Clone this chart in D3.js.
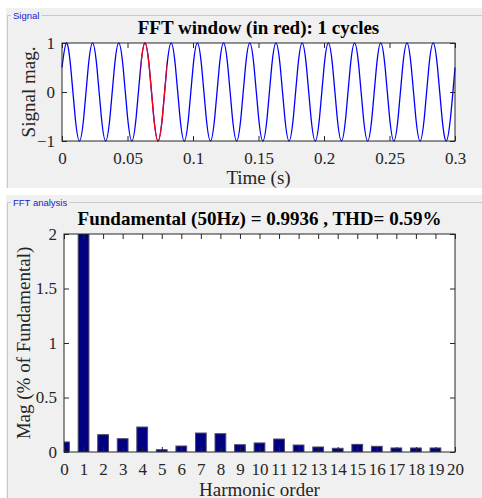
<!DOCTYPE html>
<html>
<head>
<meta charset="utf-8">
<script src="https://cdn.jsdelivr.net/npm/d3@7"></script>
<style>
  body { margin: 0; background: #fff; }
  svg { display: block; }
  .ax text { font-family: "Liberation Serif", serif; font-size: 17px; fill: #262626; }
  .ax path, .ax line { stroke: #262626; }
</style>
</head>
<body>
<div id="chart-area"></div>
<script>
// signal samples, one every 1/300 s (peaks, troughs, half points)
const sampleStep = 1 / 300
const signalValues = [
  0.5, 1, 0.5, -0.5, -1, -0.5, 0.5, 1, 0.5, -0.5, -1, -0.5,
  0.5, 1, 0.5, -0.5, -1, -0.5, 0.5, 1, 0.5, -0.5, -1, -0.5,
  0.5, 1, 0.5, -0.5, -1, -0.5, 0.5, 1, 0.5, -0.5, -1, -0.5,
  0.5, 1, 0.5, -0.5, -1, -0.5, 0.5, 1, 0.5, -0.5, -1, -0.5,
  0.5, 1, 0.5, -0.5, -1, -0.5, 0.5, 1, 0.5, -0.5, -1, -0.5,
  0.5, 1, 0.5, -0.5, -1, -0.5, 0.5, 1, 0.5, -0.5, -1, -0.5,
  0.5, 1, 0.5, -0.5, -1, -0.5, 0.5, 1, 0.5, -0.5, -1, -0.5,
  0.5, 1, 0.5, -0.5, -1, -0.5, 0.5
]
const windowStart = 0.06
const windowEnd = 0.08

const timeTicks = [0, 0.05, 0.1, 0.15, 0.2, 0.25, 0.3]
const signalTicks = [-1, 0, 1]

// harmonic spectrum (% of fundamental)
const harmonics = [0, 1, 2, 3, 4, 5, 6, 7, 8, 9, 10, 11, 12, 13, 14, 15, 16, 17, 18, 19]
const magnitudes = [0.092, 100, 0.159, 0.122, 0.229, 0.021, 0.055, 0.174, 0.168, 0.067,
                    0.083, 0.119, 0.064, 0.046, 0.034, 0.070, 0.052, 0.037, 0.037, 0.037]
const harmonicTicks = d3.range(0, 21)
const magTicks = [0, 0.5, 1, 1.5, 2]

const W = 482, H = 498
const SERIF = "Liberation Serif, serif"

const svg = d3.select("#chart-area")
    .append("svg")
    .attr("width", W)
    .attr("height", H)

// panels
function panel(y0, y1, label, lineY) {
    svg.append("rect")
        .attr("x", 6).attr("y", y0)
        .attr("width", W - 6).attr("height", y1 - y0)
        .attr("fill", "#f0f0f0")
    const lbl = svg.append("text")
        .attr("x", 13).attr("y", lineY + 3.5)
        .attr("font-family", "Liberation Sans, Arial, sans-serif")
        .attr("font-size", 9.5)
        .attr("fill", "#1a1acc")
        .text(label)
    const lw = lbl.node().getComputedTextLength()
    svg.append("path")
        .attr("d", `M7.5,${y1} V${lineY + 0.5} H11 M${15 + lw},${lineY + 0.5} H${W}`)
        .attr("fill", "none")
        .attr("stroke", "#c8c8c8")
}
panel(8, 188, "Signal", 15)
panel(195, H, "FFT analysis", 202)

function boxAxes(g, x, y, w, h, xt, yt) {
    g.append("g").attr("class", "ax")
        .attr("transform", `translate(0,${h})`)
        .call(d3.axisBottom(x).tickValues(xt).tickSize(-5).tickPadding(11).tickFormat(d3.format("")))
    g.append("g").attr("class", "ax")
        .call(d3.axisTop(x).tickValues(xt).tickSize(-5).tickFormat(""))
    g.append("g").attr("class", "ax")
        .call(d3.axisLeft(y).tickValues(yt).tickSize(-5).tickPadding(7).tickFormat(d3.format("")))
    g.append("g").attr("class", "ax")
        .attr("transform", `translate(${w},0)`)
        .call(d3.axisRight(y).tickValues(yt).tickSize(-5).tickFormat(""))
    g.selectAll(".ax .domain").remove()
    g.append("rect")
        .attr("width", w).attr("height", h)
        .attr("fill", "none").attr("stroke", "#262626")
}

function labels(g, w, h, title, xl, yl, titleY, xlY, ylX) {
    g.append("text")
        .attr("x", w / 2).attr("y", titleY)
        .attr("text-anchor", "middle")
        .attr("font-family", SERIF)
        .attr("font-weight", "bold")
        .attr("font-size", 19)
        .text(title)
    g.append("text")
        .attr("x", w / 2).attr("y", xlY)
        .attr("text-anchor", "middle")
        .attr("font-family", SERIF)
        .attr("font-size", 19).attr("fill", "#262626")
        .text(xl)
    g.append("text")
        .attr("transform", `translate(${ylX},${h / 2}) rotate(-90)`)
        .attr("text-anchor", "middle")
        .attr("font-family", SERIF)
        .attr("font-size", 19).attr("fill", "#262626")
        .text(yl)
}

// ---- top: signal ----
const M1 = { LEFT: 62, TOP: 43, W: 393, H: 98 }
const g1 = svg.append("g").attr("transform", `translate(${M1.LEFT},${M1.TOP})`)
g1.append("rect").attr("width", M1.W).attr("height", M1.H).attr("fill", "#fff")

const xT = d3.scaleLinear().domain([0, 0.3]).range([0, M1.W])
const yS = d3.scaleLinear().domain([-1, 1]).range([M1.H, 0])

const pts = signalValues.map((v, i) => ({ t: i * sampleStep, v: v }))
const sigLine = d3.line().x(d => xT(d.t)).y(d => yS(d.v)).curve(d3.curveNatural)

g1.append("path").datum(pts)
    .attr("d", sigLine)
    .attr("fill", "none").attr("stroke", "#0000ff").attr("stroke-width", 1.3)

// red overlay: same path, clipped to the FFT window
g1.append("clipPath").attr("id", "win")
    .append("rect")
    .attr("x", xT(windowStart)).attr("y", -2)
    .attr("width", xT(windowEnd) - xT(windowStart)).attr("height", M1.H + 4)
g1.append("path").datum(pts)
    .attr("d", sigLine)
    .attr("clip-path", "url(#win)")
    .attr("fill", "none").attr("stroke", "#ff0000").attr("stroke-width", 1.3)

boxAxes(g1, xT, yS, M1.W, M1.H, timeTicks, signalTicks)
labels(g1, M1.W, M1.H, "FFT window (in red): 1 cycles", "Time (s)", "Signal mag.", -9.5, M1.H + 43, -27)

// ---- bottom: FFT ----
const M2 = { LEFT: 64, TOP: 234, W: 391, H: 218 }
const g2 = svg.append("g").attr("transform", `translate(${M2.LEFT},${M2.TOP})`)
g2.append("rect").attr("width", M2.W).attr("height", M2.H).attr("fill", "#fff")

const xH = d3.scaleLinear().domain([0, 20]).range([0, M2.W])
const yM = d3.scaleLinear().domain([0, 2]).range([M2.H, 0])
const barW = xH(0.55) - xH(0)

g2.append("clipPath").attr("id", "plot2")
    .append("rect").attr("width", M2.W).attr("height", M2.H)

g2.append("g").attr("clip-path", "url(#plot2)")
    .selectAll("rect").data(harmonics)
    .enter().append("rect")
    .attr("x", (d) => xH(d) - barW / 2)
    .attr("y", (d, i) => yM(Math.min(magnitudes[i], 2.05)))
    .attr("width", barW)
    .attr("height", (d, i) => M2.H - yM(Math.min(magnitudes[i], 2.05)))
    .attr("fill", "#000080")
    .attr("stroke", "#4a4a66")
    .attr("stroke-width", 1)

boxAxes(g2, xH, yM, M2.W, M2.H, harmonicTicks, magTicks)
labels(g2, M2.W, M2.H, "Fundamental (50Hz) = 0.9936 , THD= 0.59%", "Harmonic order",
       "Mag (% of Fundamental)", -9, M2.H + 44, -34)
</script>
</body>
</html>
